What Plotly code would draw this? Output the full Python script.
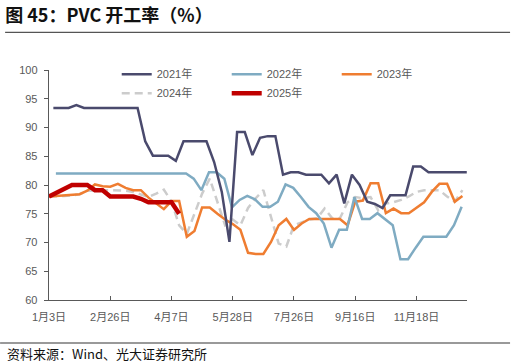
import plotly.graph_objects as go

# ---- data (weekly operating rate, %) ----
tick_labels = ["1月3日", "2月26日", "4月7日", "5月28日", "7月26日", "9月16日", "11月18日"]
tick_every = 8  # categories between labels

y2021 = [93.4, 93.4, 93.4, 93.9, 93.4, 93.4, 93.4, 93.4, 93.4, 93.4, 93.4, 93.4,
         87.6, 85.1, 85.1, 85.1, 84.2, 87.6, 87.6, 87.6, 87.6, 84.0, 78.8, 70.1,
         89.2, 89.2, 85.2, 88.2, 88.5, 88.5, 81.8, 82.2, 82.2, 81.8, 81.8, 81.8,
         80.3, 81.8, 76.8, 81.8, 80.0, 77.1, 76.7, 76.0, 78.2, 78.2, 78.2, 83.2,
         83.2, 82.2, 82.2, 82.2, 82.2, 82.2, 82.2]
y2022 = [82.0] * 18 + [81.1, 79.1, 82.2, 82.2, 81.1, 76.1, 77.4, 78.1, 77.5, 76.2,
                       76.2, 77.1, 80.1, 79.5, 77.9, 76.2, 75.1, 73.3, 69.1, 72.2,
                       72.2, 77.9, 74.1, 74.1, 75.1, 74.1, 73.0, 67.1, 67.1, 69.1,
                       71.0, 71.0, 71.0, 71.0, 73.0, 76.2]
y2023 = [78.0, 78.1, 78.2, 78.3, 78.4, 79.0, 80.1, 79.8, 79.7, 80.2, 79.5, 79.1,
         79.1, 77.8, 76.8, 75.8, 77.2, 77.2, 71.0, 72.0, 76.1, 76.1, 75.0, 74.0,
         73.2, 72.2, 68.2, 68.0, 68.0, 70.1, 73.0, 74.1, 72.2, 73.3, 74.1, 74.1,
         74.1, 74.1, 74.1, 73.0, 77.1, 77.3, 80.3, 80.3, 75.1, 75.9, 75.1, 75.1,
         76.0, 77.0, 78.8, 80.2, 80.2, 77.1, 78.1]
y2024 = [78.0, 78.0, 78.1, 78.2, 78.4, 79.0, 79.1, 79.1, 79.1, 79.1, 79.0, 78.8,
         78.3, 77.9, 78.5, 79.2, 77.1, 73.0, 71.5, 75.0, 78.5, 81.1, 77.1, 73.0,
         74.0, 73.0, 76.0, 77.7, 79.1, 74.5, 69.8, 69.3, 73.0, 73.5, 74.0, 74.2,
         75.9, 74.2, 74.2, 77.0, 77.9, 77.7, 77.9, 75.6, 76.8, 77.0, 77.4, 78.0,
         78.8, 79.1, 79.1, 79.1, 78.0, 77.1, 79.1]
y2025 = [78.0, 78.7, 79.4, 80.0, 80.0, 80.0, 79.1, 79.1, 78.0, 78.0, 78.0, 78.0,
         77.6, 77.0, 77.0, 77.0, 77.0, 75.0]

# first observation position (in weekly-category units) for each year
start_2021, start_2022, start_2023, start_2024, start_2025 = 0.57, 0.9, 0.0, 0.0, 0.0

FONT = "Liberation Sans, Arial, Noto Sans CJK SC"
CJK = "Noto Sans CJK SC"
GREY = "#595959"


def xs(start, vals):
    return [start + k for k in range(len(vals))]


fig = go.Figure()
series = [
    # (name, values, start, colour, width, dash, legendrank)
    ("2024年", y2024, start_2024, "#cccccc", 2.5, "8px,5px", 4),
    ("2023年", y2023, start_2023, "#ef7d31", 2.5, "solid", 3),
    ("2022年", y2022, start_2022, "#7fabc2", 2.5, "solid", 2),
    ("2021年", y2021, start_2021, "#4a4a6d", 2.5, "solid", 1),
    ("2025年", y2025, start_2025, "#c00000", 4.5, "solid", 5),
]
for name, vals, st, col, w, dash, rank in series:
    fig.add_trace(go.Scatter(
        x=xs(st, vals), y=vals, mode="lines", name=name,
        line=dict(color=col, width=w, dash=dash),
        legendrank=rank, hoverinfo="skip",
    ))

fig.update_layout(
    width=516, height=363,
    margin=dict(l=49, r=49, t=70, b=63),
    paper_bgcolor="white", plot_bgcolor="white",
    font=dict(family=FONT, size=11, color=GREY),
    title=dict(text="<b>图 45：PVC 开工率（%）</b>", x=0.01, xanchor="left",
               y=0.958, yanchor="middle", yref="container",
               font=dict(family=CJK, size=18, color="#111111")),
    showlegend=True,
    legend=dict(orientation="h", x=0.162, xanchor="left", y=1.045, yanchor="top",
                entrywidth=65, entrywidthmode="pixels", traceorder="normal",
                font=dict(family=FONT, size=11, color=GREY),
                bgcolor="rgba(0,0,0,0)", tracegroupgap=0, itemwidth=30),
    xaxis=dict(range=[0, 54.6], showline=True, linecolor=GREY, linewidth=1.3,
               tickmode="array",
               tickvals=[i * tick_every for i in range(len(tick_labels))],
               ticktext=tick_labels, ticks="inside", ticklen=4, tickcolor=GREY,
               showgrid=False, zeroline=False, ticklabelstandoff=6,
               tickfont=dict(family=FONT, size=11, color=GREY)),
    yaxis=dict(range=[60, 100], dtick=5, showline=True, linecolor=GREY, linewidth=1.3,
               ticks="outside", ticklen=4, tickcolor=GREY, showgrid=False,
               zeroline=False, ticklabelstandoff=4,
               tickfont=dict(family=FONT, size=11, color=GREY)),
    shapes=[
        dict(type="line", xref="paper", yref="paper", x0=-0.105, x1=1.103,
             y0=1.1637, y1=1.1637, line=dict(color="#555555", width=1.2)),
        dict(type="line", xref="paper", yref="paper", x0=-0.117, x1=1.103,
             y0=-0.1867, y1=-0.1867, line=dict(color="#777777", width=1.5)),
    ],
    annotations=[
        dict(text="资料来源：Wind、光大证券研究所", xref="paper", yref="paper",
             x=-0.105, y=-0.2345, xanchor="left", yanchor="middle", showarrow=False,
             font=dict(family=CJK, size=13, color="#111111")),
    ],
)

fig.write_html("out.html",
               config={"displayModeBar": False, "staticPlot": True},
               post_script="document.body.style.margin='0';"
                           "document.body.style.overflow='hidden';")
